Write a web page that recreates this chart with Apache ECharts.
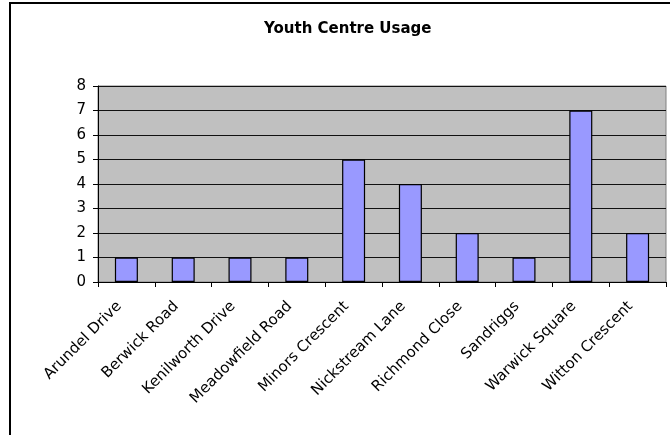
<!DOCTYPE html>
<html>
<head>
<meta charset="utf-8">
<script src="https://cdn.jsdelivr.net/npm/echarts@6/dist/echarts.min.js"></script>
<style>
  html, body { margin: 0; padding: 0; background: #fff; }
  #chart { width: 670px; height: 435px; }
</style>
</head>
<body>
<div id="chart"></div>
<script>
// Youth centre usage by street
const streets = ['Arundel Drive', 'Berwick Road', 'Kenilworth Drive', 'Meadowfield Road', 'Minors Crescent',
  'Nickstream Lane', 'Richmond Close', 'Sandriggs', 'Warwick Square', 'Witton Crescent'];
const usage = [1, 1, 1, 1, 5, 4, 2, 1, 7, 2];
const yTicks = [0, 8, 1]; // min, max, step

const chart = echarts.init(document.getElementById('chart'));
chart.setOption({
  animation: false,
  textStyle: { fontFamily: 'DejaVu Sans, sans-serif' },
  title: {
    text: 'Youth Centre Usage', left: 259, top: 17,
    textStyle: { fontSize: 15, fontWeight: 'bold', color: '#000', fontFamily: 'DejaVu Sans' }
  },
  graphic: [{
    type: 'rect', shape: { x: 10, y: 3, width: 700, height: 500 }, silent: true, z: -1,
    style: { fill: 'none', stroke: '#000', lineWidth: 2 }
  }],
  grid: { left: 98, top: 86, right: 4, bottom: 153, show: true, backgroundColor: '#c0c0c0', borderColor: '#808080', borderWidth: 1 },
  xAxis: {
    type: 'category', data: streets,
    axisLine: { lineStyle: { color: '#000' } },
    axisTick: { show: true, length: 5, lineStyle: { color: '#000' } },
    axisLabel: { rotate: 45, fontSize: 15, color: '#000', margin: 15, padding: [0, 10, 0, 0], fontFamily: 'DejaVu Sans' }
  },
  yAxis: {
    type: 'value', min: yTicks[0], max: yTicks[1], interval: yTicks[2],
    axisLine: { show: true, lineStyle: { color: '#000' } },
    axisTick: { show: true, length: 5, lineStyle: { color: '#000' } },
    axisLabel: { fontSize: 15, color: '#000', margin: 12, fontFamily: 'DejaVu Sans' },
    splitLine: { lineStyle: { color: '#111', width: 1 } }
  },
  series: [{
    type: 'bar', data: usage, barWidth: 23,
    itemStyle: { color: '#9999ff', borderColor: '#000', borderWidth: 1.2 }
  }]
});
</script>
</body>
</html>
